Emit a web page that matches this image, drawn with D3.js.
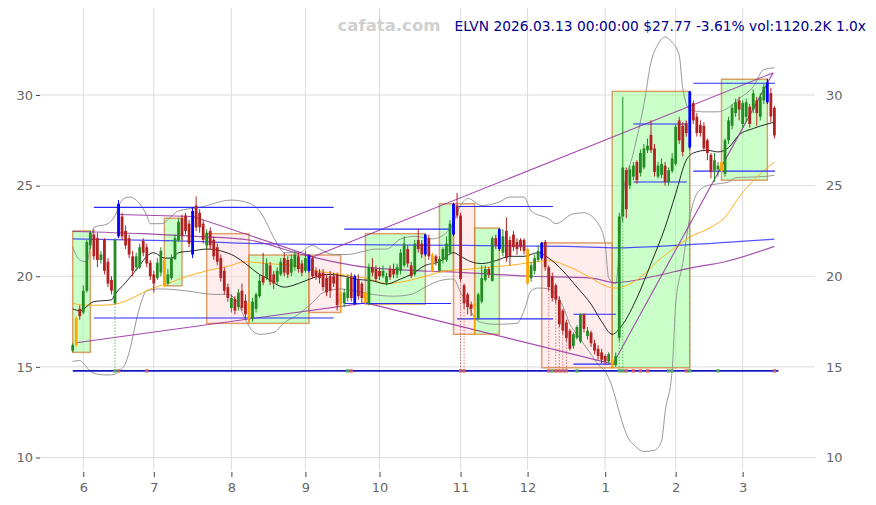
<!DOCTYPE html>
<html><head><meta charset="utf-8">
<script src="https://cdn.jsdelivr.net/npm/d3@7"></script>
<style>body{margin:0;background:#fff}svg{display:block}text{font-family:"DejaVu Sans",sans-serif}</style>
</head><body><svg id="c" width="876" height="505"></svg>
<script>
// ---- data ----
const monthLabels = ['6','7','8','9','10','11','12','1','2','3'];
const monthStartIdx = [3,23,45,66,87,110,129,151,171,190];
const yTicks = [10,15,20,25,30];
const open  = [15.9,16.2,18.2,18.0,19.2,21.7,22.3,22.1,20.9,22.0,20.8,19.8,18.5,22.2,23.3,22.5,22.1,21.1,20.5,20.5,21.95,21.6,20.75,20.1,19.9,20.2,20.9,19.6,19.9,20.95,22.0,23.2,23.35,22.9,21.2,23.9,23.5,22.9,21.7,22.5,22.0,21.6,21.0,20.3,19.4,18.25,18.75,18.3,19.2,18.65,18.5,17.65,18.2,18.9,20.0,19.9,20.6,20.1,19.7,20.1,21.0,20.9,20.2,20.5,21.1,20.7,20.3,20.3,21.0,20.3,20.2,20.2,19.9,20.0,20.0,20.1,19.1,18.5,18.8,20.0,18.5,19.8,19.6,19.1,18.5,20.5,20.4,20.3,20.0,19.65,20.4,20.4,20.1,20.3,20.6,21.5,20.6,20.1,22.0,21.8,21.2,22.1,21.2,21.1,20.3,20.9,20.9,21.3,22.3,23.9,23.35,19.5,19.0,18.45,18.5,17.7,18.6,19.8,20.4,19.75,22.1,21.5,21.3,22.5,22.0,22.3,21.9,22.0,22.0,21.5,19.9,20.3,20.9,21.0,21.9,20.5,20.0,19.5,18.7,18.1,17.45,17.0,16.15,16.6,16.4,17.9,16.7,16.9,16.3,16.0,15.8,15.6,15.3,15.4,15.1,16.6,23.3,25.85,25.0,25.5,26.3,25.7,26.0,26.95,27.8,27.05,25.5,25.6,26.1,25.2,25.8,26.2,28.6,28.3,28.45,27.1,29.55,28.8,28.35,28.3,27.5,26.7,25.85,25.9,26.3,25.65,27.5,28.3,29.0,29.7,28.4,28.8,29.35,29.2,29.7,28.8,29.7,29.6,30.1,29.3];
const high  = [16.3,17.8,18.4,19.5,22.0,22.5,22.6,22.4,21.4,22.1,21.0,20.0,22.1,24.2,23.5,22.8,22.3,21.4,21.3,21.8,22.1,21.8,20.9,20.3,21.0,21.6,21.0,20.4,21.2,22.3,23.2,23.4,23.5,23.1,23.8,24.4,23.7,23.1,22.6,22.7,22.2,21.8,21.2,20.5,19.6,19.0,18.9,19.3,19.6,19.0,18.6,18.8,19.1,20.1,21.3,21.0,20.8,20.3,20.5,21.0,21.3,21.1,21.2,21.4,21.3,20.9,21.4,21.2,21.1,20.5,20.4,20.4,20.1,20.3,20.2,20.2,19.2,19.3,20.1,20.2,20.1,20.1,19.7,19.2,20.7,21.0,20.6,20.5,20.6,20.2,20.6,20.7,20.7,21.5,22.2,21.7,20.8,22.0,22.6,22.0,22.35,22.3,21.3,21.2,21.1,21.6,22.2,23.1,24.05,24.6,23.5,19.6,19.1,18.6,18.6,19.1,20.6,20.6,20.5,22.2,22.3,22.66,22.6,23.25,22.2,22.5,22.1,22.1,22.1,21.6,20.8,21.2,21.7,21.9,22.0,20.6,20.2,19.6,18.9,18.2,17.6,17.1,16.9,17.3,17.95,17.95,17.2,17.0,16.5,16.2,16.0,15.7,15.8,15.5,15.8,23.5,29.9,26.0,26.1,26.3,26.4,27.0,27.3,27.6,28.6,27.3,26.3,26.5,26.3,26.0,26.8,28.4,28.8,28.5,28.6,30.2,29.7,29.0,28.6,28.5,27.6,26.8,26.8,26.3,26.4,27.6,28.8,29.5,29.8,29.9,29.7,29.8,29.5,30.3,29.9,30.1,30.6,30.9,30.4,29.4];
const low   = [15.8,16.1,17.6,17.9,19.1,21.5,20.9,20.5,20.7,20.1,19.4,19.0,18.5,22.1,22.0,21.5,21.0,20.0,20.3,20.4,21.1,20.5,19.8,19.1,19.8,20.0,19.4,19.5,19.8,20.9,21.9,22.0,22.3,21.6,21.0,22.5,22.4,21.8,21.5,21.5,20.9,20.6,19.7,19.0,18.6,18.0,17.9,18.1,18.1,17.6,17.45,17.5,18.0,18.8,19.5,19.8,19.5,19.3,19.5,20.0,20.0,19.9,20.0,20.3,20.2,20.0,20.2,20.2,19.9,19.8,19.6,19.2,18.9,18.8,19.4,18.1,18.0,18.3,18.6,18.6,18.4,18.7,18.5,18.46,18.4,20.0,19.7,19.8,19.9,19.5,19.8,19.9,19.9,20.1,20.5,20.5,19.9,20.0,21.3,21.0,21.1,20.9,20.2,20.6,20.3,20.7,20.8,21.2,22.2,23.2,19.7,18.2,17.9,17.8,16.8,17.6,18.5,19.7,19.9,19.7,21.5,21.4,21.1,20.8,20.6,21.4,21.2,21.4,21.2,19.5,19.7,20.1,20.8,20.9,20.3,19.2,18.6,18.5,17.2,16.8,16.4,15.9,16.0,16.5,16.3,16.9,16.5,16.1,15.7,15.4,15.2,15.1,15.2,14.9,15.0,16.4,23.0,23.2,24.8,25.3,25.1,25.5,25.9,26.8,26.8,25.5,25.4,25.4,25.0,25.0,25.7,26.1,27.3,26.6,27.7,27.0,28.4,27.7,27.7,26.9,26.4,25.4,25.2,25.5,25.3,25.5,27.3,28.1,28.8,28.6,28.2,28.5,28.2,29.0,28.3,28.6,29.5,29.5,28.5,27.6];
const close = [16.2,17.7,17.8,19.2,21.9,22.4,21.1,20.9,21.2,20.3,19.6,19.2,22.0,24.0,22.2,21.7,21.2,20.3,21.1,21.6,21.3,20.7,20.0,19.6,20.75,21.4,19.5,20.1,21.0,22.1,23.0,22.25,22.5,21.8,23.6,22.7,22.7,22.0,22.4,21.7,21.1,20.8,19.9,19.2,18.8,18.8,18.1,19.1,18.25,17.9,17.65,18.6,19.0,19.75,19.65,20.7,19.7,19.6,20.3,20.8,20.2,20.1,20.95,21.2,20.4,20.2,21.0,21.15,20.0,20.0,19.9,19.4,19.1,19.2,19.6,18.4,18.45,19.1,19.9,18.8,20.0,18.9,18.8,18.55,20.5,20.2,19.85,20.0,20.3,20.0,19.95,20.1,20.5,21.3,21.8,20.7,20.0,21.8,21.5,21.2,22.3,21.1,20.3,20.8,20.95,21.5,21.8,22.9,24.0,23.35,19.85,18.5,18.3,18.2,18.3,19.0,19.9,20.4,20.1,22.1,21.7,22.6,22.2,21.0,21.1,21.6,21.5,21.6,21.4,19.6,20.6,21.0,21.4,21.84,20.5,19.4,18.8,18.7,17.35,17.0,16.6,16.0,16.8,17.2,17.9,17.1,17.0,16.3,15.9,15.6,15.4,15.3,15.7,15.0,15.6,23.3,26.0,23.7,25.9,26.1,25.3,26.8,27.05,27.2,26.95,25.75,26.1,26.2,25.2,25.85,26.5,28.25,27.5,26.85,27.9,30.2,28.6,27.9,27.9,27.05,26.8,25.75,26.4,26.1,25.8,27.5,28.6,29.3,29.6,29.2,29.55,29.6,28.4,30.1,29.0,29.9,30.45,30.7,28.81,27.77];
const blueCandles   = [13,34,67,80,100,108,121,133,175,197];
const orangeCandles = [1,26,50,76,83,102,114,129,153,184];

// moving averages / bands: (index, value)
const maBlackIdx = [0,2,6,11,12,15,19,21,23,26,28,30,34,38,42,46,49,53,55,60,64,68,72,77,80,85,89,93,96,100,104,108,110,113,116,120,124,128,132,135,139,143,147,150,153,156,160,164,168,171,174,176,180,183,186,189,193,197,199];
const maBlackVal = [18.2,18.1,18.6,18.7,19.0,19.65,20.6,21.1,21.3,21.0,21.0,21.3,21.4,21.5,21.4,21.1,20.7,20.1,19.9,19.4,19.6,19.9,20.1,20.0,19.85,19.75,19.57,19.85,20.1,20.6,20.8,21.3,21.1,20.8,20.7,20.86,21.1,21.1,21.3,21.0,20.3,19.4,18.46,17.5,16.8,17.35,18.8,20.7,22.7,24.55,26.4,26.8,26.95,26.86,27.1,27.8,28.15,28.4,28.5];
const maOrangeIdx = [0,4,8,12,17,22,27,31,38,44,49,55,62,69,76,83,89,95,100,106,113,118,124,130,135,141,147,151,154,158,162,166,171,175,181,185,189,194,199];
const maOrangeVal = [18.5,18.4,18.4,18.46,18.8,19.3,19.6,19.9,20.3,20.55,20.8,20.7,20.6,20.3,20.1,19.9,19.6,19.75,20.0,20.3,20.4,20.5,20.6,20.76,20.86,20.5,19.9,19.47,19.35,19.57,20.1,20.86,21.6,22.15,22.7,23.26,24.37,25.47,26.3];
const bbUpIdx = [0,2,4,6,10,12,14,16,18,21,22,25,30,36,45,49,53,58,60,64,68,70,74,78,83,86,89,93,97,102,107,110,112,116,121,124,128,130,135,137,142,145,149,151,152,154,156,159,162,164,166,168,170,172,173,175,179,183,186,189,193,196,199];
const bbUpVal = [21.6,20.9,20.8,22.7,22.9,23.35,24.2,24.37,24.2,23.35,22.9,22.9,23.6,23.8,24.2,24.1,23.6,21.8,21.3,21.3,21.7,21.5,21.2,21.2,21.4,21.5,21.5,22.06,22.2,22.06,22.6,23.9,24.3,23.9,24.1,24.37,24.37,23.6,23.17,22.9,23.45,23.5,22.9,21.8,19.9,19.6,24.37,26.8,29.5,31.8,32.8,33.2,32.9,32.2,30.4,29.2,29.07,29.07,29.3,29.8,30.46,31.4,31.5];
const bbLoIdx = [0,2,3,5,7,10,12,13,15,16,19,21,25,32,40,44,47,49,51,53,57,60,64,68,71,76,80,85,91,96,100,104,108,110,112,114,116,120,126,128,130,132,135,137,139,141,143,145,147,149,151,153,155,157,160,162,165,167,168,170,171,173,175,177,180,183,186,188,192,196,199];
const bbLoVal = [15.3,15.35,15.2,14.76,14.6,14.55,14.6,14.76,15.2,15.8,18.3,19.2,19.3,19.2,19.0,19.0,18.46,17.6,16.98,16.8,16.9,17.44,17.9,18.55,19.1,19.3,19.2,19.0,18.9,19.0,19.4,19.75,19.85,19.1,18.46,17.7,17.44,17.35,17.4,18.1,19.2,19.35,19.3,19.0,18.36,17.35,16.8,16.24,15.7,15.13,14.76,13.9,12.5,11.3,10.55,10.33,10.4,10.9,12.5,14.8,18.46,20.7,23.26,24.55,25.0,25.1,25.2,25.44,25.47,25.5,25.57];
const maBlueIdx = [0,30,53,80,111,140,155,175,199];
const maBlueVal = [22.06,21.95,21.8,21.75,21.7,21.65,21.57,21.75,22.05];
const maPurpleIdx = [0,20,35,50,65,83,111,130,147,154,165,175,185,199];
const maPurpleVal = [22.47,22.35,22.2,22.0,21.2,20.5,20.2,20.0,19.9,19.65,20.0,20.45,20.8,21.65];

// trend lines (index, value pairs as polylines)
const trendUpperIdx = [12.9,34.1,68.2,198.6];
const trendUpperVal = [23.41,23.3,21.08,31.22];
const trendLowerIdx = [1,83.2,153.2,198.6];
const trendLowerVal = [16.33,18.53,15.15,31.22];

// boxes
const boxStart = [0,26,38,50,67,83,104,108,114,133,153,184];
const boxEnd   = [5,31,50,67,76,100,108,114,121,153,175,197];
const boxTop   = [22.5,23.2,22.35,21.17,21.17,22.35,24.0,24.0,22.66,21.84,30.2,30.87];
const boxBottom= [15.8,19.47,17.4,17.4,18.0,18.46,20.3,16.8,16.8,14.95,14.95,25.3];
const boxKind  = ['g','g','p','g','p','g','g','p','g','p','g','g'];

// horizontal levels
const levelStart = [6,6,77,77,109,109,142,142,159,159,176,176];
const levelEnd   = [74,74,107.3,107.3,136.2,136.2,154.1,154.1,174.2,174.2,199.2,199.2];
const levelValue = [23.8,17.7,22.6,18.5,23.85,17.65,17.9,15.15,28.4,25.2,30.65,25.8];
const baseLevel = 14.78;

// signals
const buySignals  = [12,78,136,143,155,156,169,170,175,183];
const sellSignals = [13,21,79,110,111,135,137,138,139,140,157,159,161,163,174,199];
const dottedBuy   = [12,155,156,175];
const dottedSell  = [110,111,135,137,138,139,140];

// ---- drawing ----
const svg = d3.select('#c');
const N = close.length;
const x = d3.scaleLinear().domain([0, N-1]).range([72.7, 774.4]);
const y = d3.scaleLinear().domain([10, 30]).range([457.5, 95]);
const L = 40, R = 815, T = 8, B = 470;

// grid
svg.append('g').selectAll('line').data(yTicks).join('line')
  .attr('x1', L).attr('x2', R).attr('y1', d=>y(d)).attr('y2', d=>y(d))
  .attr('stroke', '#dcdcdc').attr('stroke-width', 1);
svg.append('g').selectAll('line').data(monthStartIdx).join('line')
  .attr('x1', d=>x(d)).attr('x2', d=>x(d)).attr('y1', T).attr('y2', B)
  .attr('stroke', '#dcdcdc').attr('stroke-width', 1);

// axes
const xAxis = svg.append('g').attr('transform', `translate(0,${B+2})`)
  .call(d3.axisBottom(x).tickValues(monthStartIdx).tickFormat((d,i)=>monthLabels[i]).tickSize(5).tickPadding(6));
xAxis.select('.domain').remove();
const yAxisL = svg.append('g').attr('transform', `translate(${L},0)`)
  .call(d3.axisLeft(y).tickValues(yTicks).tickSize(4).tickPadding(3));
yAxisL.select('.domain').remove();
const yAxisR = svg.append('g').attr('transform', `translate(${R+11},0)`)
  .call(d3.axisRight(y).tickValues(yTicks).tickSize(0).tickPadding(0));
yAxisR.select('.domain').remove();
svg.selectAll('.tick text').attr('fill', '#666').attr('font-size', 13).attr('font-family', 'DejaVu Sans');
svg.selectAll('.tick line').attr('stroke', '#444');

// boxes
svg.append('g').selectAll('rect').data(boxStart).join('rect')
  .attr('x', (d,i)=>x(d)).attr('width', (d,i)=>x(boxEnd[i])-x(d))
  .attr('y', (d,i)=>y(boxTop[i])).attr('height', (d,i)=>y(boxBottom[i])-y(boxTop[i]))
  .attr('fill', (d,i)=>boxKind[i]==='g' ? 'rgba(150,255,150,0.5)' : 'rgba(255,215,215,0.45)')
  .attr('stroke', 'rgba(210,130,60,0.75)').attr('stroke-width', 1.5);

function series(idx, val){ return idx.map((d,i)=>[d, val[i]]); }
const curve = d3.line().x(d=>x(d[0])).y(d=>y(d[1])).curve(d3.curveMonotoneX);
const straight = d3.line().x(d=>x(d[0])).y(d=>y(d[1]));

// bands
[[bbUpIdx,bbUpVal],[bbLoIdx,bbLoVal]].forEach(([a,b])=>{
  svg.append('path').attr('d', curve(series(a,b))).attr('fill','none').attr('stroke','#8c8c8c').attr('stroke-width',0.9);
});
// moving averages
svg.append('path').attr('d', curve(series(maBlueIdx,maBlueVal))).attr('fill','none').attr('stroke','rgba(40,40,255,0.8)').attr('stroke-width',1.3);
svg.append('path').attr('d', curve(series(maPurpleIdx,maPurpleVal))).attr('fill','none').attr('stroke','rgba(140,40,150,0.8)').attr('stroke-width',1.2);
svg.append('path').attr('d', curve(series(maOrangeIdx,maOrangeVal))).attr('fill','none').attr('stroke','#ffb020').attr('stroke-width',1);
svg.append('path').attr('d', curve(series(maBlackIdx,maBlackVal))).attr('fill','none').attr('stroke','#111').attr('stroke-width',0.9);

// trend lines
[[trendUpperIdx,trendUpperVal],[trendLowerIdx,trendLowerVal]].forEach(([a,b])=>{
  svg.append('path').attr('d', straight(series(a,b))).attr('fill','none').attr('stroke','rgba(150,40,160,0.85)').attr('stroke-width',1.1);
});

// horizontal levels
svg.append('g').selectAll('line').data(levelStart).join('line')
  .attr('x1', d=>x(d)).attr('x2', (d,i)=>x(levelEnd[i]))
  .attr('y1', (d,i)=>y(levelValue[i])).attr('y2', (d,i)=>y(levelValue[i]))
  .attr('stroke', '#2a2aff').attr('stroke-width', 1.1);

// dotted signal lines
const dots = dottedBuy.map(i=>({i,c:'rgba(60,170,60,0.8)'})).concat(dottedSell.map(i=>({i,c:'rgba(200,70,70,0.7)'})));
svg.append('g').selectAll('line').data(dots).join('line')
  .attr('x1', d=>x(d.i)).attr('x2', d=>x(d.i)).attr('y1', d=>y(low[d.i])).attr('y2', y(baseLevel))
  .attr('stroke', d=>d.c).attr('stroke-width', 1).attr('stroke-dasharray', '1.5,1.5');

// candles
const idx = d3.range(N);
const candleColor = i => blueCandles.includes(i) ? '#0000ff' : orangeCandles.includes(i) ? '#ffa500' : (close[i] >= open[i] ? '#228b22' : '#b22222');
const cg = svg.append('g');
cg.selectAll('line').data(idx).join('line')
  .attr('x1', i=>x(i)).attr('x2', i=>x(i)).attr('y1', i=>y(high[i])).attr('y2', i=>y(low[i]))
  .attr('stroke', candleColor).attr('stroke-width', 1);
cg.selectAll('rect').data(idx).join('rect')
  .attr('x', i=>x(i)-1.4).attr('width', 2.8)
  .attr('y', i=>y(Math.max(open[i],close[i])))
  .attr('height', i=>Math.max(1, Math.abs(y(open[i])-y(close[i]))))
  .attr('fill', candleColor);

// base level & markers
svg.append('line').attr('x1', x(0)).attr('x2', x(N-1)+4).attr('y1', y(baseLevel)).attr('y2', y(baseLevel))
  .attr('stroke', '#1818c0').attr('stroke-width', 1.8);
const marks = buySignals.map(i=>({i,c:'rgba(90,180,90,0.85)'})).concat(sellSignals.map(i=>({i,c:'rgba(220,100,100,0.85)'})));
svg.append('g').selectAll('rect').data(marks).join('rect')
  .attr('x', d=>x(d.i)-1.6).attr('y', y(baseLevel)-1.8).attr('width', 3.2).attr('height', 3.6)
  .attr('fill', d=>d.c);

// titles
svg.append('text').attr('x', 389).attr('y', 31).attr('text-anchor','middle')
  .attr('font-size', 16.5).attr('font-weight','bold').attr('fill','#d0d0d0').text('cafata.com');
svg.append('text').attr('x', 866).attr('y', 31).attr('text-anchor','end')
  .attr('font-size', 13.8).attr('fill','#00008b').text('ELVN 2026.03.13 00:00:00 $27.77 -3.61% vol:1120.2K 1.0x');
</script></body></html>
